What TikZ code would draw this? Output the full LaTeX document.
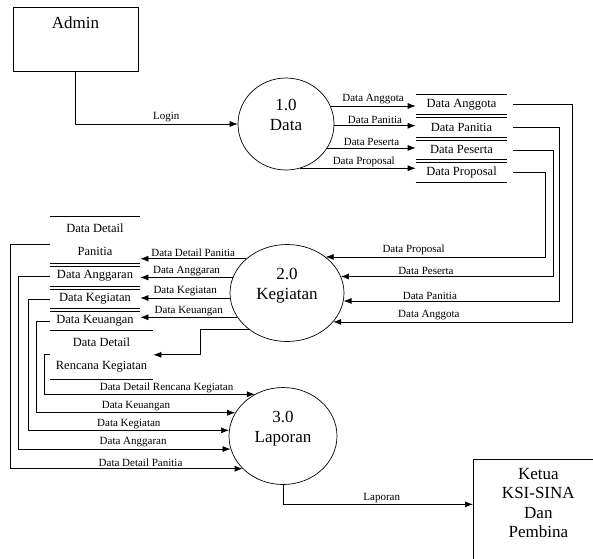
\documentclass[tikz,border=0pt]{standalone}
\usepackage{fontspec}
\setmainfont{Liberation Serif}
\usetikzlibrary{shapes,arrows.meta,positioning}

\begin{document}
\begin{tikzpicture}[x=1pt, y=-1pt, node distance=3pt, line width=0.7pt]
    \tikzstyle{entity} = [rectangle, draw, align=center, font=\fontsize{17}{19.5}\selectfont]
    \tikzstyle{process} = [ellipse, draw, inner sep=0pt, align=center, text height=32pt, text depth=20pt, font=\fontsize{17}{20}\selectfont]
    \tikzstyle{store} = [rectangle, inner sep=0pt, align=center, font=\fontsize{12.5}{23}\selectfont]
    \tikzstyle{flow} = [font=\fontsize{11}{13}\selectfont, inner sep=1.5pt]
    \tikzstyle{line} = [draw, -{Latex[length=8pt, width=6pt]}]

    \useasboundingbox (0,0) rectangle (593,558);

    % external entities
    \node[entity, minimum width=125pt, text height=15pt, text depth=37pt, inner ysep=6pt] (admin) at (75.5,39) {Admin};
    \node[entity, minimum width=130pt, text height=71.5pt, text depth=24.5pt, inner ysep=7pt, anchor=north west] (ketua) at (473,459) {Ketua\\KSI-SINA\\Dan\\Pembina};

    % processes
    \node[process, minimum width=96pt, minimum height=92pt] (p1) at (286,124) {1.0\\Data};
    \node[process, minimum width=114pt, minimum height=97pt] (p2) at (287,293) {2.0\\Kegiatan};
    \node[process, minimum width=108pt, minimum height=97pt] (p3) at (283,436) {3.0\\Laporan};

    % data stores
    \node[store, minimum width=91pt, minimum height=19pt] (ds1) at (461.5,104.5) {Data Anggota};
    \node[store, minimum width=91pt, minimum height=19pt, below=of ds1] (ds2) {Data Panitia};
    \node[store, minimum width=91pt, minimum height=19pt, below=of ds2] (ds3) {Data Peserta};
    \node[store, minimum width=91pt, minimum height=19pt, below=of ds3] (ds4) {Data Proposal};

    \node[store, minimum width=90pt, minimum height=46pt] (l1) at (95,240) {Data Detail\\Panitia};
    \node[store, minimum width=90pt, minimum height=19pt, below=of l1] (l2) {Data Anggaran};
    \node[store, minimum width=90pt, minimum height=19pt, below=of l2] (l3) {Data Kegiatan};
    \node[store, minimum width=90pt, minimum height=18pt, below=of l3] (l4) {Data Keuangan};
    \node[store, minimum width=103pt, minimum height=48pt, below right=0pt and 0pt of l4.south west] (l5) {Data Detail\\Rencana Kegiatan};

    \draw (ds1.north west) -- (ds1.north east) (ds1.south west) -- (ds1.south east);
    \draw (ds2.north west) -- (ds2.north east) (ds2.south west) -- (ds2.south east);
    \draw (ds3.north west) -- (ds3.north east) (ds3.south west) -- (ds3.south east);
    \draw (ds4.north west) -- (ds4.north east) (ds4.south west) -- (ds4.south east);
    \draw (l1.north west) -- (l1.north east) (l1.south west) -- (l1.south east);
    \draw (l2.north west) -- (l2.north east) (l2.south west) -- (l2.south east);
    \draw (l3.north west) -- (l3.north east) (l3.south west) -- (l3.south east);
    \draw (l4.north west) -- (l4.north east) (l4.south west) -- (l4.south east);
    \draw (l5.north west) -- (l5.north east) (l5.south west) -- (l5.south east);

    % flows
    \path[line] (admin) |- (p1) node[flow, pos=0.78, above] {Login};

    \path[line] (p1.22) -- (p1.22 -| ds1.west) node[flow, midway, above] {Data Anggota};
    \path[line] (p1.-2) -- (p1.-2 -| ds2.west) node[flow, midway, above] {Data Panitia};
    \path[line] (p1.-30) -- (p1.-30 -| ds3.west) node[flow, midway, above] {Data Peserta};
    \path[line] (p1.-72) -- (p1.-72 -| ds4.west) node[flow, pos=0.55, above] {Data Proposal};

    \path[line] ([xshift=6pt]ds1.east) -- ++(59,0) |- (p2.-32.6) node[flow, pos=0.8, above] {Data Anggota};
    \path[line] ([xshift=6pt]ds2.east) -- ++(46,0) |- (p2.-8.1) node[flow, pos=0.8, above] {Data Panitia};
    \path[line] ([xshift=6pt]ds3.east) -- ++(40,0) |- (p2.17.7) node[flow, pos=0.8, above] {Data Peserta};
    \path[line] ([xshift=6pt]ds4.east) -- ++(32,0) |- (p2.43.7) node[flow, pos=0.8, above] {Data Proposal};

    \path[line] (p2.140) -- (p2.140 -| l1.east) node[flow, midway, above] {Data Detail Panitia};
    \path[line] (p2.164.5) -- (p2.164.5 -| l2.east) node[flow, midway, above] {Data Anggaran};
    \path[line] (p2.-175) -- (p2.-175 -| l3.east) node[flow, midway, above] {Data Kegiatan};
    \path[line] (p2.-154) -- (p2.-154 -| l4.east) node[flow, midway, above] {Data Keuangan};
    \path[line] (p2.-136.3) -- ++(-49,0) |- (l5.east);

    \path[line] (l5.west) -- ++(-5,0) |- (p3.124.4) node[flow, pos=0.79, above] {Data Detail Rencana Kegiatan};
    \path[line] (l4.west) -- ++(-13,0) |- (p3.154.1) node[flow, pos=0.75, above] {Data Keuangan};
    \path[line] (l3.west) -- ++(-21,0) |- (p3.174.7) node[flow, pos=0.75, above] {Data Kegiatan};
    \path[line] (l2.west) -- ++(-31,0) |- (p3.-166) node[flow, pos=0.77, above] {Data Anggaran};
    \path[line] ([yshift=-4pt]l1.west) -- ++(-39,0) |- (p3.-141.5) node[flow, pos=0.78, above] {Data Detail Panitia};

    \path[line] (p3.south) |- ([yshift=10pt]ketua.west) node[flow, pos=0.76, above] {Laporan};
\end{tikzpicture}
\end{document}
